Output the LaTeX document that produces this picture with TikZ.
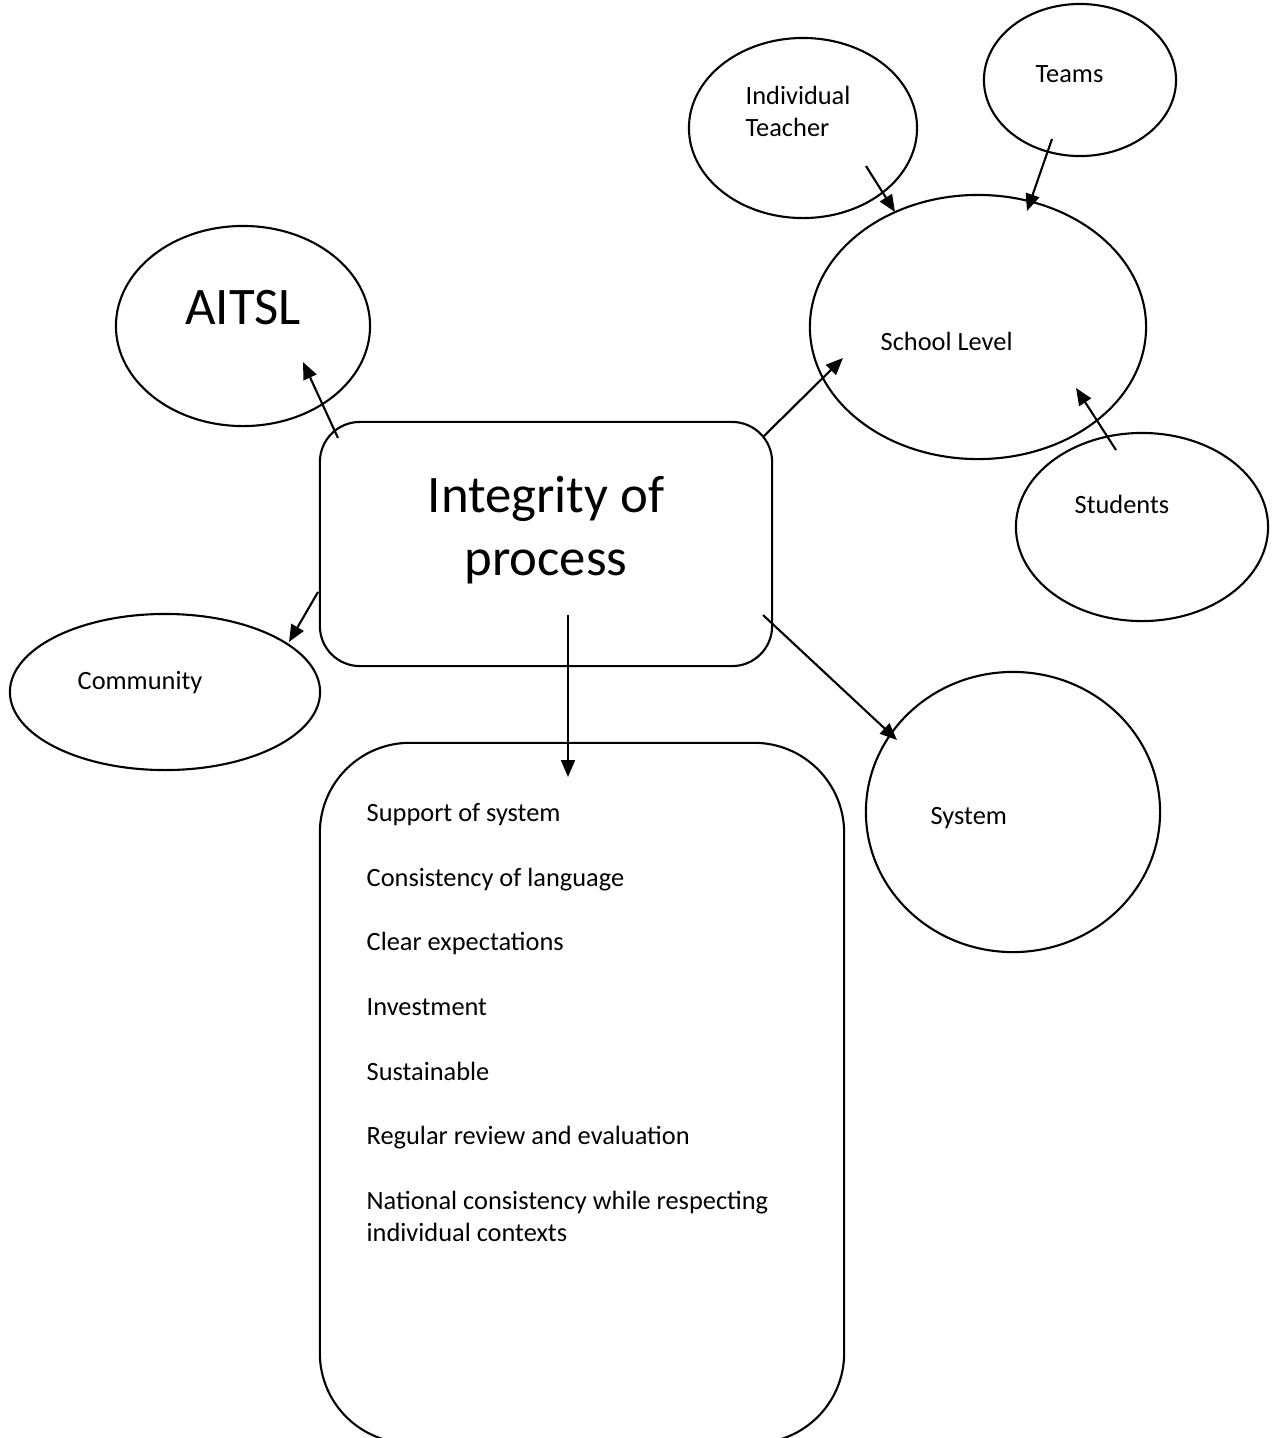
\documentclass[tikz,border=0pt]{standalone}
\usepackage{fontspec}
\setmainfont{Carlito}
\usetikzlibrary{shapes.geometric,arrows.meta}

\begin{document}
\begin{tikzpicture}[x=0.01cm,y=-0.01cm,
	bubble/.style={draw,ellipse,line width=0.6pt,inner sep=0pt},
	roundbox/.style={draw,rectangle,line width=0.6pt,inner sep=0pt},
	small/.style={font=\fontsize{7.5}{9}\selectfont,inner sep=0pt,anchor=base west},
	big/.style={font=\fontsize{15}{18}\selectfont,inner sep=0pt,anchor=base},
	link/.style={line width=0.6pt,-{Triangle[length=0.17cm,width=0.14cm]}}]
			\clip (0,0) rectangle (1273,1438);
			% bubbles
			\node[bubble,minimum width=2.54cm,minimum height=2.00cm] (aitsl) at (243,326) {};
			\node[bubble,minimum width=2.28cm,minimum height=1.80cm] (teacher) at (803,128) {};
			\node[bubble,minimum width=1.92cm,minimum height=1.52cm] (teams) at (1080,80) {};
			\node[bubble,minimum width=3.36cm,minimum height=2.64cm] (school) at (978,327) {};
			\node[bubble,minimum width=2.52cm,minimum height=1.88cm] (students) at (1142,527) {};
			\node[bubble,minimum width=3.10cm,minimum height=1.56cm] (community) at (165,692) {};
			\node[bubble,minimum width=2.94cm,minimum height=2.80cm] (system) at (1013,812) {};
			% boxes
			\node[roundbox,rounded corners=0.4cm,minimum width=4.52cm,minimum height=2.44cm] (process) at (546,544) {};
			\node[roundbox,rounded corners=0.9cm,minimum width=5.24cm,minimum height=7.00cm] (qualities) at (582,1093) {};
			% labels
			\node[big] (aitsltext) at (243,324) {AITSL};
			\node[big] (processtop) at (546,512) {Integrity of};
			\node[big] (processbot) at (546,575) {process};
			\node[small] (teachertop) at (745,104) {Individual};
			\node[small] (teacherbot) at (745,136) {Teacher};
			\node[small] (teamstext) at (1035,82) {Teams};
			\node[small] (schooltext) at (880,350) {School Level};
			\node[small] (studentstext) at (1074,513) {Students};
			\node[small] (communitytext) at (77,689) {Community};
			\node[small] (systemtext) at (930,824) {System};
			\foreach \y/\txt in {821/Support of system,886/Consistency of language,950/Clear expectations,1015/Investment,1080/Sustainable,1144/Regular review and evaluation,1209/National consistency while respecting,1241/individual contexts}
				\node[small] (item\y) at (366,\y) {\txt};
			% arrows
			\coordinate (aitslfrom) at (338,438);
			\coordinate (aitslto) at (303,362);
			\coordinate (communityfrom) at (318,592);
			\coordinate (communityto) at (289,642);
			\coordinate (schoolfrom) at (763,437);
			\coordinate (schoolto) at (843,358);
			\coordinate (systemfrom) at (763,615);
			\coordinate (systemto) at (897,740);
			\coordinate (qualitiesfrom) at (568,615);
			\coordinate (qualitiesto) at (568,777);
			\coordinate (teacherfrom) at (866,166);
			\coordinate (teacherto) at (895,212);
			\coordinate (teamsfrom) at (1052,139);
			\coordinate (teamsto) at (1027,211);
			\coordinate (studentsfrom) at (1116,450);
			\coordinate (studentsto) at (1076,388);
			\draw[link] (aitslfrom)--(aitslto);
			\draw[link] (communityfrom)--(communityto);
			\draw[link] (schoolfrom)--(schoolto);
			\draw[link] (systemfrom)--(systemto);
			\draw[link] (qualitiesfrom)--(qualitiesto);
			\draw[link] (teacherfrom)--(teacherto);
			\draw[link] (teamsfrom)--(teamsto);
			\draw[link] (studentsfrom)--(studentsto);
\end{tikzpicture}
\end{document}
